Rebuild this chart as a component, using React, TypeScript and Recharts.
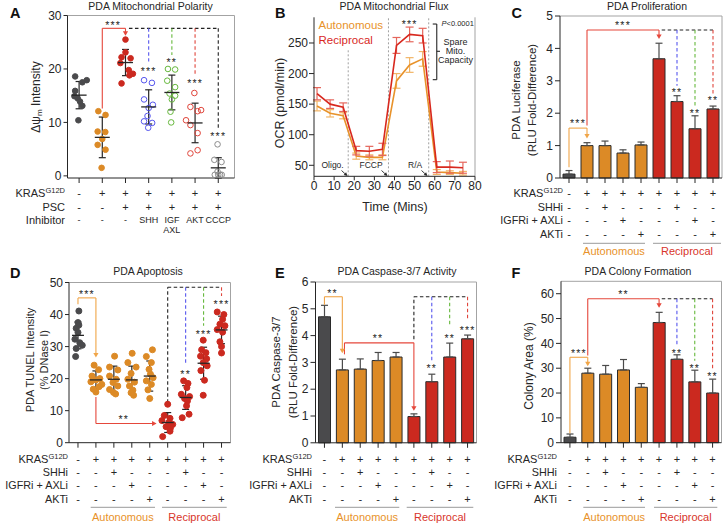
import React from "react";
import {
  Bar,
  BarChart,
  Cell,
  ErrorBar,
  Line,
  LineChart,
  ReferenceDot,
  ReferenceLine,
  Scatter,
  ScatterChart,
  XAxis,
  YAxis,
} from "recharts";

const FONT = "'Liberation Sans', Arial, Helvetica, sans-serif";
const INK = "#262626";
const FRAME = "#a3a3a3";
const ORANGE = "#dc8a26";
const RED = "#cb291f";
const DARK = "#4a4a4c";
const BLUE = "#5757ee";
const GREEN = "#66b83c";
const PINK = "#e0463c";
const OPEN_GREY = "#8c8c8c";
const LINE_OR = "#f0a548";
const LINE_RED = "#e5473b";
const W = 724;
const H = 524;

// ---------- A: mitochondrial polarity (dot plot) ----------
const aKras = ["-", "+", "+", "+", "+", "+", "+"];
const aPsc = ["-", "-", "+", "+", "+", "+", "+"];
const aInhibitor = ["-", "-", "-", "SHH", "IGF", "AKT", "CCCP"];
const aInhibitor2 = ["", "", "", "", "AXL", "", ""];
const aPoints = [
  [18.6, 17.9, 17.5, 15.9, 14.9, 14.5, 13.9, 13.1, 10.4],
  [12.1, 11.4, 8.3, 8.2, 6.9, 5.8, 4.9, 1.5],
  [25.5, 23.1, 22.2, 22.0, 21.1, 19.8, 19.1, 18.8, 17.3],
  [17.9, 17.4, 14.3, 13.3, 12.7, 11.2, 10.2, 9.9, 9.0],
  [20.0, 19.9, 17.8, 16.6, 15.4, 15.0, 14.3, 12.0, 10.0],
  [15.5, 12.9, 12.3, 12.1, 10.4, 9.5, 8.0, 4.8, 4.2],
  [5.9, 3.0, 2.6, 0.8, 0.2, 0.2, 0.2, 0.2],
];
const aJitter = [
  [-0.17, 0.33, 0.14, -0.17, -0.2, -0.06, 0.04, 0.14, -0.03],
  [-0.17, 0.14, -0.2, 0.13, 0.0, -0.2, 0.14, -0.03],
  [0.0, 0.0, -0.17, 0.22, -0.22, 0.14, 0.32, 0.17, -0.17],
  [-0.2, 0.14, -0.2, 0.18, 0.0, -0.05, -0.2, 0.15, -0.02],
  [-0.17, 0.14, -0.2, 0.14, -0.1, 0.14, 0.0, -0.06, -0.03],
  [-0.03, -0.2, 0.26, 0.11, -0.39, -0.2, 0.11, 0.11, -0.2],
  [-0.03, -0.17, 0.14, -0.03, -0.15, 0.0, 0.15, 0.08],
];
const aMeans = [15.1, 7.2, 21.2, 12.9, 15.6, 9.9, 1.5];
const aSd = [2.55, 3.8, 2.45, 3.2, 3.25, 3.7, 1.9];
const aStyles = [
  { fill: DARK, stroke: DARK },
  { fill: ORANGE, stroke: ORANGE },
  { fill: RED, stroke: RED },
  { fill: "none", stroke: BLUE },
  { fill: "none", stroke: GREEN },
  { fill: "none", stroke: PINK },
  { fill: "none", stroke: OPEN_GREY },
];

// ---------- B: mitochondrial flux ----------
const bTime = [1.5, 8, 14.5, 21, 27.5, 34, 41, 47.5, 54, 61, 67.5, 74];
const bAuto = [147, 135, 131, 65, 63, 63, 188, 214, 224, 39, 38, 37];
const bAutoErr = [8, 6, 5, 5, 4, 4, 12, 12, 12, 4, 3, 3];
const bRecip = [167, 150, 145, 74, 73, 76, 246, 264, 262, 47, 47, 46];
const bRecipErr = [10, 7, 7, 7, 8, 10, 13, 12, 12, 9, 10, 9];

// ---------- shared 9-condition rows ----------
const idx9 = [0, 1, 2, 3, 4, 5, 6, 7, 8];
const kras9 = ["-", "+", "+", "+", "+", "+", "+", "+", "+"];
const shhi9 = ["-", "-", "+", "-", "-", "-", "+", "-", "-"];
const igfr9 = ["-", "-", "-", "+", "-", "-", "-", "+", "-"];
const akti9 = ["-", "-", "-", "-", "+", "-", "-", "-", "+"];
const barColors = [DARK, ORANGE, ORANGE, ORANGE, ORANGE, RED, RED, RED, RED];

// ---------- C: proliferation ----------
const cValues = [0.12, 1.0, 1.0, 0.77, 1.02, 3.68, 2.36, 1.52, 2.13];
const cErr = [0.11, 0.09, 0.14, 0.1, 0.09, 0.48, 0.18, 0.4, 0.09];

// ---------- D: apoptosis (dot plot) ----------
const dPoints = [
  [41.1, 37.5, 36.7, 35.7, 34.4, 32.3, 31.2, 30.4, 29.4, 26.9],
  [24.2, 22.8, 20.8, 20.0, 19.6, 19.0, 18.2, 17.5, 16.7, 15.8],
  [27.0, 23.6, 22.7, 20.8, 19.8, 18.8, 17.7, 16.6, 15.7, 15.2],
  [27.9, 25.0, 23.6, 21.6, 19.8, 18.9, 17.7, 16.4, 15.6, 14.8],
  [29.0, 26.9, 25.0, 22.9, 21.4, 20.3, 19.3, 18.2, 16.5, 13.8],
  [12.0, 8.5, 7.6, 6.9, 6.3, 5.7, 5.0, 4.5, 3.6, 1.9],
  [19.3, 18.5, 17.2, 15.1, 14.4, 13.8, 13.0, 11.5, 8.9, 7.8],
  [32.0, 29.0, 28.1, 27.0, 26.2, 25.0, 24.0, 22.5, 19.5, 14.8],
  [40.8, 40.0, 38.5, 37.0, 36.5, 35.3, 34.5, 31.5, 30.0, 28.0],
];
const dJitter = [
  [0.05, 0.0, 0.05, -0.1, 0.0, -0.17, 0.1, 0.24, -0.1, -0.13],
  [-0.1, 0.15, -0.22, 0.22, 0.0, -0.28, 0.33, 0.18, -0.15, 0.0],
  [0.04, -0.24, 0.22, -0.24, 0.13, -0.05, 0.22, -0.24, -0.02, 0.1],
  [0.02, -0.22, 0.24, -0.04, -0.22, 0.15, -0.13, 0.06, -0.04, 0.1],
  [0.15, -0.19, 0.09, -0.04, 0.04, 0.19, -0.19, 0.09, -0.1, 0.0],
  [0.0, -0.19, 0.13, -0.32, 0.06, 0.28, -0.09, 0.15, 0.13, -0.28],
  [-0.11, 0.13, 0.07, -0.24, 0.22, -0.06, 0.1, 0.05, 0.19, -0.19],
  [-0.02, -0.11, 0.13, -0.17, 0.17, -0.02, 0.2, -0.15, 0.05, -0.02],
  [-0.24, 0.13, 0.06, -0.09, 0.19, -0.24, 0.06, -0.09, 0.0, 0.0],
];
const dMeans = [33.5, 19.6, 19.8, 19.6, 20.8, 6.3, 14.1, 24.8, 35.2];
const dSd = [4.2, 2.8, 4.1, 4.3, 4.7, 3.1, 3.7, 5.0, 4.3];
const dStyles = barColors.map((c) => ({ fill: c, stroke: c }));

// ---------- E: caspase 3/7 ----------
const eValues = [4.7, 2.72, 2.75, 3.07, 3.2, 0.98, 2.28, 3.2, 3.88];
const eErr = [0.43, 0.4, 0.38, 0.3, 0.17, 0.1, 0.28, 0.52, 0.14];

// ---------- F: colony formation ----------
const fValues = [2.2, 28.0, 27.6, 29.3, 22.3, 48.4, 33.6, 24.5, 20.0];
const fErr = [1.3, 2.0, 3.5, 4.2, 1.5, 4.1, 1.8, 4.7, 5.6];

type Seg = { pts: number[][]; color: string; dashed?: boolean };
type Head = { x: number; y: number; color: string; dir?: "down" | "right" };
type Star = { x: number; y: number; text: string };
type Row = { labels: string[]; dy: number; size: number };

const tickStyle = { fontSize: 12, fill: INK, fontFamily: FONT };

function annotations(segs: Seg[], heads: Head[], stars: Star[]) {
  const out: React.ReactElement[] = [];
  segs.forEach((s, i) => {
    for (let j = 1; j < s.pts.length; j++) {
      out.push(
        <ReferenceLine
          key={`s${i}-${j}`}
          segment={[
            { x: s.pts[j - 1][0], y: s.pts[j - 1][1] },
            { x: s.pts[j][0], y: s.pts[j][1] },
          ]}
          stroke={s.color}
          strokeWidth={1.1}
          strokeDasharray={s.dashed ? "3.5 2.5" : undefined}
        />
      );
    }
  });
  heads.forEach((h, i) =>
    out.push(
      <ReferenceDot
        key={`h${i}`}
        x={h.x}
        y={h.y}
        r={0}
        shape={(p: any) => (
          <path
            d={
              h.dir === "right"
                ? `M${p.cx - 4.5},${p.cy - 2.6}L${p.cx},${p.cy}L${p.cx - 4.5},${p.cy + 2.6}Z`
                : `M${p.cx - 2.6},${p.cy - 4.5}L${p.cx},${p.cy}L${p.cx + 2.6},${p.cy - 4.5}Z`
            }
            fill={h.color}
          />
        )}
      />
    )
  );
  stars.forEach((s, i) =>
    out.push(
      <ReferenceDot
        key={`t${i}`}
        x={s.x}
        y={s.y}
        r={0}
        shape={(p: any) => (
          <text x={p.cx} y={p.cy + 6} textAnchor="middle" fontSize={10.5} letterSpacing={1.2} fill={INK} fontFamily={FONT}>
            {s.text}
          </text>
        )}
      />
    )
  );
  return out;
}

function rowTick(rows: Row[]) {
  return (p: any) => {
    const i = Math.round(p.payload.value);
    return (
      <g>
        {rows.map((r, k) =>
          r.labels[i] ? (
            <text key={k} x={p.x} y={p.y + r.dy} textAnchor="middle" fontSize={r.size} fill={INK} fontFamily={FONT}>
              {r.labels[i]}
            </text>
          ) : null
        )}
      </g>
    );
  };
}

const layer: React.CSSProperties = { position: "absolute", left: 0, top: 0 };

function DotPanel(props: {
  points: number[][];
  jitter: number[][];
  styles: { fill: string; stroke: string }[];
  means: number[];
  sd: number[];
  xMax: number;
  yMax: number;
  yTicks: number[];
  margin: any;
  rows: Row[];
  r: number;
  half: number;
  segs: Seg[];
  heads: Head[];
  stars: Star[];
}) {
  const ticks = props.points.map((_, i) => i);
  const meanData = props.means.map((m, i) => ({ x: i, y: m, sd: props.sd[i] }));
  return (
    <div style={layer}>
      <ScatterChart width={W} height={H} margin={props.margin}>
        <XAxis
          type="number"
          dataKey="x"
          domain={[-0.5, props.xMax]}
          ticks={ticks}
          interval={0}
          height={60}
          tickSize={5}
          tickMargin={0}
          axisLine={{ stroke: INK }}
          tickLine={{ stroke: INK }}
          tick={rowTick(props.rows)}
        />
        <YAxis
          type="number"
          dataKey="y"
          domain={[0, props.yMax]}
          ticks={props.yTicks}
          interval={0}
          width={30}
          tickSize={4}
          tickMargin={2}
          axisLine={{ stroke: INK }}
          tickLine={{ stroke: INK }}
          tick={tickStyle}
        />
        <ReferenceLine y={props.yMax} stroke={FRAME} />
        <ReferenceLine x={props.xMax} stroke={FRAME} />
        {annotations(props.segs, [], [])}
        {props.points.map((vals, g) => (
          <Scatter
            key={g}
            data={vals.map((v, j) => ({ x: g + props.jitter[g][j], y: v }))}
            isAnimationActive={false}
            shape={(p: any) => (
              <circle cx={p.cx} cy={p.cy} r={props.r} fill={props.styles[g].fill} stroke={props.styles[g].stroke} strokeWidth={1} />
            )}
          />
        ))}
        <Scatter
          data={meanData}
          isAnimationActive={false}
          shape={(p: any) => (
            <line x1={p.cx - props.half} x2={p.cx + props.half} y1={p.cy} y2={p.cy} stroke={INK} strokeWidth={1.3} />
          )}
        >
          <ErrorBar dataKey="sd" direction="y" width={3.5} stroke={INK} strokeWidth={1.2} />
        </Scatter>
        {annotations([], props.heads, props.stars)}
      </ScatterChart>
    </div>
  );
}

function BarPanel(props: {
  values: number[];
  errs: number[];
  yMax: number;
  yTicks: number[];
  margin: any;
  rows: Row[];
  segs: Seg[];
  heads: Head[];
  stars: Star[];
}) {
  const data = props.values.map((v, i) => ({ x: i, value: v, err: [0, props.errs[i]] }));
  return (
    <div style={layer}>
      <BarChart width={W} height={H} data={data} margin={props.margin}>
        <XAxis
          type="number"
          dataKey="x"
          domain={[-0.5, 8.5]}
          ticks={idx9}
          interval={0}
          height={60}
          tickSize={5}
          tickMargin={0}
          axisLine={{ stroke: INK }}
          tickLine={{ stroke: INK }}
          tick={rowTick(props.rows)}
        />
        <YAxis
          type="number"
          domain={[0, props.yMax]}
          ticks={props.yTicks}
          interval={0}
          width={30}
          tickSize={5}
          tickMargin={2}
          axisLine={{ stroke: INK }}
          tickLine={{ stroke: INK }}
          tick={tickStyle}
        />
        <ReferenceLine y={props.yMax} stroke={FRAME} />
        <ReferenceLine x={8.5} stroke={FRAME} />
        <Bar dataKey="value" barSize={12} stroke="#2a2a2a" strokeWidth={1} isAnimationActive={false}>
          {props.values.map((_, i) => (
            <Cell key={i} fill={barColors[i]} />
          ))}
          <ErrorBar dataKey="err" direction="y" width={3.5} stroke="#4a4a4a" strokeWidth={1.2} />
        </Bar>
        {annotations(props.segs, props.heads, props.stars)}
      </BarChart>
    </div>
  );
}

const rowsTop: Row[] = [
  { labels: kras9, dy: 13.5, size: 11 },
  { labels: shhi9, dy: 27.5, size: 11 },
  { labels: igfr9, dy: 40.8, size: 11 },
  { labels: akti9, dy: 54.8, size: 11 },
];
const rowsBottom: Row[] = [
  { labels: kras9, dy: 15.4, size: 11 },
  { labels: shhi9, dy: 28.4, size: 11 },
  { labels: igfr9, dy: 41.6, size: 11 },
  { labels: akti9, dy: 54.8, size: 11 },
];

function FluxPanel() {
  const data = bTime.map((t, i) => ({
    t,
    auto: bAuto[i],
    autoErr: bAutoErr[i],
    recip: bRecip[i],
    recipErr: bRecipErr[i],
  }));
  const dash = "#a0a0a0";
  return (
    <div style={layer}>
      <LineChart width={W} height={H} data={data} margin={{ top: 17.3, right: 249, bottom: 317.7, left: 284 }}>
        <XAxis
          type="number"
          dataKey="t"
          domain={[0, 80]}
          ticks={[0, 10, 20, 30, 40, 50, 60, 70, 80]}
          interval={0}
          height={30}
          tickSize={4}
          tickMargin={1}
          axisLine={{ stroke: INK }}
          tickLine={{ stroke: INK }}
          tick={tickStyle}
        />
        <YAxis
          type="number"
          domain={[32, 292]}
          ticks={[50, 100, 150, 200, 250]}
          interval={0}
          width={30}
          tickSize={5}
          tickMargin={1}
          axisLine={{ stroke: INK }}
          tickLine={{ stroke: INK }}
          tick={tickStyle}
        />
        <ReferenceLine x={80} stroke={FRAME} />
        <ReferenceLine segment={[{ x: 17, y: 32 }, { x: 17, y: 240 }]} stroke={dash} strokeDasharray="2 2" />
        <ReferenceLine segment={[{ x: 37, y: 32 }, { x: 37, y: 292 }]} stroke={dash} strokeDasharray="2 2" />
        <ReferenceLine segment={[{ x: 57, y: 32 }, { x: 57, y: 292 }]} stroke={dash} strokeDasharray="2 2" />
        <Line dataKey="auto" stroke="#e8922a" strokeWidth={1.6} dot={false} isAnimationActive={false}>
          <ErrorBar dataKey="autoErr" direction="y" width={4} stroke="#f2b567" strokeWidth={1.2} />
        </Line>
        <Line dataKey="recip" stroke="#d8281e" strokeWidth={1.6} dot={false} isAnimationActive={false}>
          <ErrorBar dataKey="recipErr" direction="y" width={4} stroke="#e5665c" strokeWidth={1.2} />
        </Line>
        {annotations(
          [
            { pts: [[59, 281], [61, 281], [61, 190], [59, 190]], color: INK },
            { pts: [[61, 236.4], [62.6, 236.4]], color: INK },
          ],
          [],
          [{ x: 47.5, y: 284, text: "***" }]
        )}
      </LineChart>
    </div>
  );
}

function Arrow({ x1, y1, x2, y2 }: { x1: number; y1: number; x2: number; y2: number }) {
  const dx = x2 - x1;
  const dy = y2 - y1;
  const len = Math.hypot(dx, dy);
  const ux = dx / len;
  const uy = dy / len;
  const bx = x2 - ux * 3.5;
  const by = y2 - uy * 3.5;
  return (
    <g>
      <line x1={x1} y1={y1} x2={bx} y2={by} stroke={INK} strokeWidth={0.9} />
      <path d={`M${x2},${y2}L${bx - uy * 1.8},${by + ux * 1.8}L${bx + uy * 1.8},${by - ux * 1.8}Z`} fill={INK} />
    </g>
  );
}

function Kras({ x, y }: { x: number; y: number }) {
  return (
    <text x={x} y={y} textAnchor="end" fontSize={11}>
      KRAS
      <tspan fontSize={7.5} dy={-4}>
        G12D
      </tspan>
    </text>
  );
}

function RowNames({ x, ys }: { x: number; ys: number[] }) {
  return (
    <g fill={INK}>
      <Kras x={x} y={ys[0]} />
      <text x={x} y={ys[1]} textAnchor="end" fontSize={10.8}>SHHi</text>
      <text x={x} y={ys[2]} textAnchor="end" fontSize={10.8}>IGFRi + AXLi</text>
      <text x={x} y={ys[3]} textAnchor="end" fontSize={10.8}>AKTi</text>
    </g>
  );
}

function Groups({ y, a, b, ty }: { y: number; a: number[]; b: number[]; ty: number }) {
  return (
    <g>
      <line x1={a[0]} x2={a[1]} y1={y} y2={y} stroke="#9a9a9a" />
      <line x1={b[0]} x2={b[1]} y1={y} y2={y} stroke="#9a9a9a" />
      <text x={(a[0] + a[1]) / 2} y={ty} textAnchor="middle" fontSize={11} fill="#e8922a">Autonomous</text>
      <text x={(b[0] + b[1]) / 2} y={ty} textAnchor="middle" fontSize={11} fill="#d8352b">Reciprocal</text>
    </g>
  );
}

function Overlay() {
  const letter = { fontSize: 14.5, fontWeight: 700, fill: "#111" } as const;
  const title = { fontSize: 10.5, textAnchor: "middle", fill: INK } as const;
  return (
    <svg width={W} height={H} style={{ ...layer, pointerEvents: "none" }} fontFamily={FONT}>
      <text x={10} y={17.5} {...letter}>A</text>
      <text x={275} y={17.5} {...letter}>B</text>
      <text x={511.5} y={17.5} {...letter}>C</text>
      <text x={10} y={277.5} {...letter}>D</text>
      <text x={275} y={277.5} {...letter}>E</text>
      <text x={511.5} y={277.5} {...letter}>F</text>

      <text x={150.5} y={10} {...title}>PDA Mitochondrial Polarity</text>
      <text x={394} y={10} {...title}>PDA Mitochondrial Flux</text>
      <text x={647} y={10} {...title}>PDA Proliferation</text>
      <text x={148} y={275} {...title}>PDA Apoptosis</text>
      <text x={397} y={275} {...title}>PDA Caspase-3/7 Activity</text>
      <text x={638} y={275} {...title}>PDA Colony Formation</text>

      <g fill={INK} textAnchor="middle">
        <text transform="translate(39.5,97) rotate(-90)" fontSize={12}>
          Δψ<tspan fontSize={8} dy={2.5}>m</tspan>
          <tspan dy={-2.5}> Intensity</tspan>
        </text>
        <text transform="translate(283.5,103) rotate(-90)" fontSize={12.5}>OCR (pmol/min)</text>
        <text transform="translate(519.5,100) rotate(-90)" fontSize={11.5}>PDA Luciferase</text>
        <text transform="translate(536,100) rotate(-90)" fontSize={11.5}>(RLU Fold-Difference)</text>
        <text transform="translate(34,360) rotate(-90)" fontSize={11}>PDA TUNEL Intensity</text>
        <text transform="translate(48,360) rotate(-90)" fontSize={11}>(% DNase I)</text>
        <text transform="translate(280,362) rotate(-90)" fontSize={11.5}>PDA Caspase-3/7</text>
        <text transform="translate(296.5,362) rotate(-90)" fontSize={11.5}>(RLU Fold-Difference)</text>
        <text transform="translate(532.5,366) rotate(-90)" fontSize={12}>Colony Area (%)</text>
        <text x={395} y={211} fontSize={12.5}>Time (Mins)</text>
      </g>

      {/* A row names */}
      <g fill={INK}>
        <Kras x={65} y={196.5} />
        <text x={65} y={210.5} textAnchor="end" fontSize={11}>PSC</text>
        <text x={65} y={224} textAnchor="end" fontSize={11}>Inhibitor</text>
      </g>
      <RowNames x={563} ys={[196.5, 210.5, 223.8, 237.8]} />
      <RowNames x={68} ys={[463.1, 476.1, 489.3, 502.5]} />
      <RowNames x={312} ys={[463.1, 476.1, 489.3, 502.5]} />
      <RowNames x={557} ys={[463.1, 476.1, 489.3, 502.5]} />

      <Groups y={243.3} a={[583, 645]} b={[653, 721]} ty={254.8} />
      <Groups y={507.3} a={[90.7, 155]} b={[162, 226.7]} ty={521} />
      <Groups y={507.3} a={[335, 399.3]} b={[406.7, 473.3]} ty={521} />
      <Groups y={507.3} a={[583.3, 645]} b={[654, 717.3]} ty={521} />

      {/* B legend and notes */}
      <text x={318.5} y={29} fontSize={11.5} fill="#e8922a">Autonomous</text>
      <text x={318.5} y={43.5} fontSize={11.5} fill="#d8281e">Reciprocal</text>
      <text x={441.5} y={26} fontSize={7.5} fill={INK}>
        <tspan fontStyle="italic">P</tspan>&lt;0.0001
      </text>
      <g fontSize={9} fill={INK} textAnchor="middle">
        <text x={455.5} y={45}>Spare</text>
        <text x={455.5} y={54}>Mito.</text>
        <text x={455.5} y={63}>Capacity</text>
      </g>
      <g fontSize={8.5} fill={INK}>
        <text x={321.5} y={168}>Oligo.</text>
        <text x={359.5} y={168}>FCCP</text>
        <text x={408} y={168}>R/A</text>
      </g>
      <Arrow x1={341.5} y1={170.5} x2={347.5} y2={176} />
      <Arrow x1={381.5} y1={170.5} x2={387.5} y2={176} />
      <Arrow x1={421.5} y1={170.5} x2={427.5} y2={176} />
    </svg>
  );
}

export default function App() {
  const black = "#222";
  return (
    <div style={{ position: "absolute", left: 0, top: 0, width: W, height: H, background: "#fff", fontFamily: FONT }}>
      <DotPanel
        points={aPoints}
        jitter={aJitter}
        styles={aStyles}
        means={aMeans}
        sd={aSd}
        xMax={6.7}
        yMax={30}
        yTicks={[0, 10, 20, 30]}
        margin={{ top: 15.5, right: 489.5, bottom: 286, left: 37.5 }}
        rows={[
          { labels: aKras, dy: 13.5, size: 11 },
          { labels: aPsc, dy: 27.5, size: 11 },
          { labels: aInhibitor, dy: 40.3, size: 9 },
          { labels: aInhibitor2, dy: 50.3, size: 9 },
        ]}
        r={2.8}
        half={7.5}
        segs={[
          { pts: [[1, 12.6], [1, 27.6], [2, 27.6], [2, 26.8]], color: LINE_RED },
          { pts: [[2.15, 27.6], [6, 27.6], [6, 8.8]], color: black, dashed: true },
          { pts: [[3, 27.6], [3, 21.4]], color: BLUE, dashed: true },
          { pts: [[4, 27.6], [4, 22.6]], color: GREEN, dashed: true },
          { pts: [[5, 27.6], [5, 18.9]], color: PINK, dashed: true },
        ]}
        heads={[{ x: 2, y: 26.2, color: LINE_RED }]}
        stars={[
          { x: 1.47, y: 28.6, text: "***" },
          { x: 3, y: 20.0, text: "***" },
          { x: 4, y: 21.6, text: "**" },
          { x: 5, y: 17.7, text: "***" },
          { x: 6, y: 7.9, text: "***" },
        ]}
      />
      <FluxPanel />
      <BarPanel
        values={cValues}
        errs={cErr}
        yMax={5}
        yTicks={[0, 1, 2, 3, 4, 5]}
        margin={{ top: 16, right: 2, bottom: 286, left: 530 }}
        rows={rowsTop}
        segs={[
          { pts: [[0, 0.33], [0, 1.54], [1, 1.54], [1, 1.3]], color: LINE_OR },
          { pts: [[1, 1.62], [1, 4.57], [5, 4.57], [5, 4.4]], color: LINE_RED },
          { pts: [[5.15, 4.57], [8, 4.57]], color: black, dashed: true },
          { pts: [[6, 4.57], [6, 2.85]], color: BLUE, dashed: true },
          { pts: [[7, 4.57], [7, 2.2]], color: GREEN, dashed: true },
          { pts: [[8, 4.57], [8, 2.6]], color: PINK, dashed: true },
        ]}
        heads={[
          { x: 1, y: 1.22, color: LINE_OR },
          { x: 5, y: 4.29, color: LINE_RED },
        ]}
        stars={[
          { x: 0.5, y: 1.75, text: "***" },
          { x: 3, y: 4.77, text: "***" },
          { x: 6, y: 2.72, text: "**" },
          { x: 7, y: 2.08, text: "**" },
          { x: 8, y: 2.47, text: "**" },
        ]}
      />
      <DotPanel
        points={dPoints}
        jitter={dJitter}
        styles={dStyles}
        means={dMeans}
        sd={dSd}
        xMax={8.5}
        yMax={50}
        yTicks={[0, 10, 20, 30, 40, 50]}
        margin={{ top: 282.5, right: 493.5, bottom: 21.3, left: 39 }}
        rows={rowsBottom}
        r={3}
        half={6}
        segs={[
          { pts: [[0, 43.2], [0, 45.2], [1, 45.2], [1, 27.5]], color: LINE_OR },
          { pts: [[1, 14.3], [1, 6.0], [4.3, 6.0]], color: LINE_RED },
          { pts: [[5, 12.5], [5, 48.5], [8, 48.5]], color: black, dashed: true },
          { pts: [[6, 48.5], [6, 24.5]], color: BLUE, dashed: true },
          { pts: [[7, 48.5], [7, 36.5]], color: GREEN, dashed: true },
          { pts: [[8, 48.5], [8, 45.8]], color: PINK, dashed: true },
        ]}
        heads={[
          { x: 1, y: 26.6, color: LINE_OR },
          { x: 4.38, y: 6.0, color: LINE_RED, dir: "right" },
        ]}
        stars={[
          { x: 0.5, y: 46.9, text: "***" },
          { x: 2.55, y: 8.1, text: "**" },
          { x: 6, y: 22.0, text: "**" },
          { x: 7, y: 34.4, text: "***" },
          { x: 8, y: 44.0, text: "***" },
        ]}
      />
      <BarPanel
        values={eValues}
        errs={eErr}
        yMax={6}
        yTicks={[0, 1, 2, 3, 4, 5, 6]}
        margin={{ top: 282, right: 247.5, bottom: 21.2, left: 285.5 }}
        rows={rowsBottom}
        segs={[
          { pts: [[0, 5.15], [0, 5.45], [1, 5.45], [1, 3.42]], color: LINE_OR },
          { pts: [[1.12, 3.3], [1.12, 3.73], [5, 3.73], [5, 1.28]], color: LINE_RED },
          { pts: [[5, 3.86], [5, 5.45], [8, 5.45]], color: black, dashed: true },
          { pts: [[6, 5.45], [6, 2.99]], color: BLUE, dashed: true },
          { pts: [[7, 5.45], [7, 4.35]], color: GREEN, dashed: true },
          { pts: [[8, 5.45], [8, 4.6]], color: PINK, dashed: true },
        ]}
        heads={[
          { x: 1, y: 3.34, color: LINE_OR },
          { x: 5, y: 1.2, color: LINE_RED },
        ]}
        stars={[
          { x: 0.45, y: 5.66, text: "**" },
          { x: 3, y: 4.0, text: "**" },
          { x: 6, y: 2.86, text: "**" },
          { x: 7, y: 4.0, text: "**" },
          { x: 8, y: 4.29, text: "***" },
        ]}
      />
      <BarPanel
        values={fValues}
        errs={fErr}
        yMax={65}
        yTicks={[0, 10, 20, 30, 40, 50, 60]}
        margin={{ top: 281.3, right: 2.5, bottom: 21.3, left: 531 }}
        rows={rowsBottom}
        segs={[
          { pts: [[0, 3.8], [0, 34.4], [1, 34.4], [1, 31.4]], color: LINE_OR },
          { pts: [[1, 35.1], [1, 58], [5, 58], [5, 55]], color: LINE_RED },
          { pts: [[5.15, 58], [8, 58]], color: black, dashed: true },
          { pts: [[6, 58], [6, 39.4]], color: BLUE, dashed: true },
          { pts: [[7, 58], [7, 33]], color: GREEN, dashed: true },
          { pts: [[8, 58], [8, 30]], color: PINK, dashed: true },
        ]}
        heads={[
          { x: 1, y: 30.8, color: LINE_OR },
          { x: 5, y: 54.3, color: LINE_RED },
        ]}
        stars={[
          { x: 0.5, y: 36.8, text: "***" },
          { x: 3, y: 60.7, text: "**" },
          { x: 6, y: 36.8, text: "**" },
          { x: 7, y: 30.8, text: "**" },
          { x: 8, y: 27.7, text: "**" },
        ]}
      />
      <Overlay />
    </div>
  );
}
